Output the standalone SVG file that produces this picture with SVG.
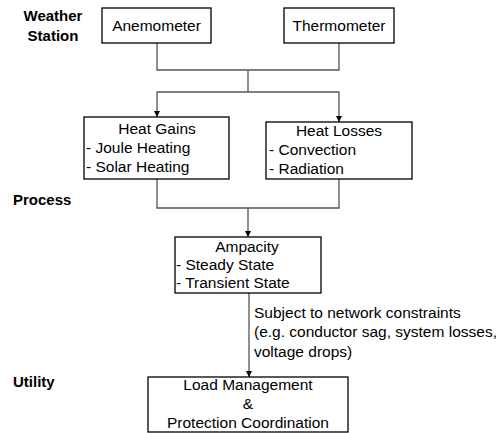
<svg xmlns="http://www.w3.org/2000/svg" width="501" height="433" viewBox="0 0 501 433">
<style>
.box{fill:#fff;stroke:#000;stroke-width:1.3}
.t{font-family:"Liberation Sans",Arial,sans-serif;font-size:15.5px;fill:#000}
.c{text-anchor:middle}
.lab{font-family:"Liberation Sans",Arial,sans-serif;font-size:15px;font-weight:bold;fill:#000}
.con{fill:none;stroke:#555;stroke-width:1.3}
</style>
<defs>
<marker id="arr" viewBox="0 0 10 10" refX="10" refY="5" markerWidth="10" markerHeight="6" markerUnits="userSpaceOnUse" orient="auto">
<path d="M0,0 L10,5 L0,10 Z" fill="#000"/>
</marker>
</defs>
<rect width="501" height="433" fill="#fff"/>
<g id="labels">
<text class="lab c" x="53" y="21">Weather</text>
<text class="lab c" x="53" y="41">Station</text>
<text class="lab" x="13" y="205">Process</text>
<text class="lab" x="13" y="387">Utility</text>
</g>
<g id="connectors">
<polyline class="con" points="157,43 157,70 339,70 339,43"/>
<polyline class="con" points="248,70 248,92"/>
<polyline class="con" points="248,92 157,92 157,117" marker-end="url(#arr)"/>
<polyline class="con" points="248,92 339,92 339,122" marker-end="url(#arr)"/>
<polyline class="con" points="157,179 157,208 339,208 339,179"/>
<line class="con" x1="248" y1="208" x2="248" y2="237" marker-end="url(#arr)"/>
<line class="con" x1="249" y1="293" x2="249" y2="377" marker-end="url(#arr)"/>
<text class="t" x="254" y="318">Subject to network constraints</text>
<text class="t" x="254" y="337">(e.g. conductor sag, system losses,</text>
<text class="t" x="254" y="357">voltage drops)</text>
</g>
<g id="anemometer">
<rect class="box" x="102" y="8" width="109" height="35"/>
<text class="t c" x="156.5" y="31">Anemometer</text>
</g>
<g id="thermometer">
<rect class="box" x="284" y="8" width="110" height="35"/>
<text class="t c" x="339" y="31">Thermometer</text>
</g>
<g id="heatgains">
<rect class="box" x="84" y="117" width="145" height="62"/>
<text class="t c" x="157" y="134">Heat Gains</text>
<text class="t" x="86" y="153">- Joule Heating</text>
<text class="t" x="86" y="172">- Solar Heating</text>
</g>
<g id="heatlosses">
<rect class="box" x="266" y="122" width="146" height="57"/>
<text class="t c" x="339" y="136">Heat Losses</text>
<text class="t" x="269" y="155">- Convection</text>
<text class="t" x="269" y="174">- Radiation</text>
</g>
<g id="ampacity">
<rect class="box" x="175" y="237" width="146" height="56"/>
<text class="t c" x="247" y="252">Ampacity</text>
<text class="t" x="176" y="270">- Steady State</text>
<text class="t" x="176" y="288">- Transient State</text>
</g>
<g id="loadmgmt">
<rect class="box" x="148" y="377" width="200" height="55"/>
<text class="t c" x="248" y="390">Load Management</text>
<text class="t c" x="248" y="409">&amp;</text>
<text class="t c" x="248" y="428">Protection Coordination</text>
</g>
</svg>
